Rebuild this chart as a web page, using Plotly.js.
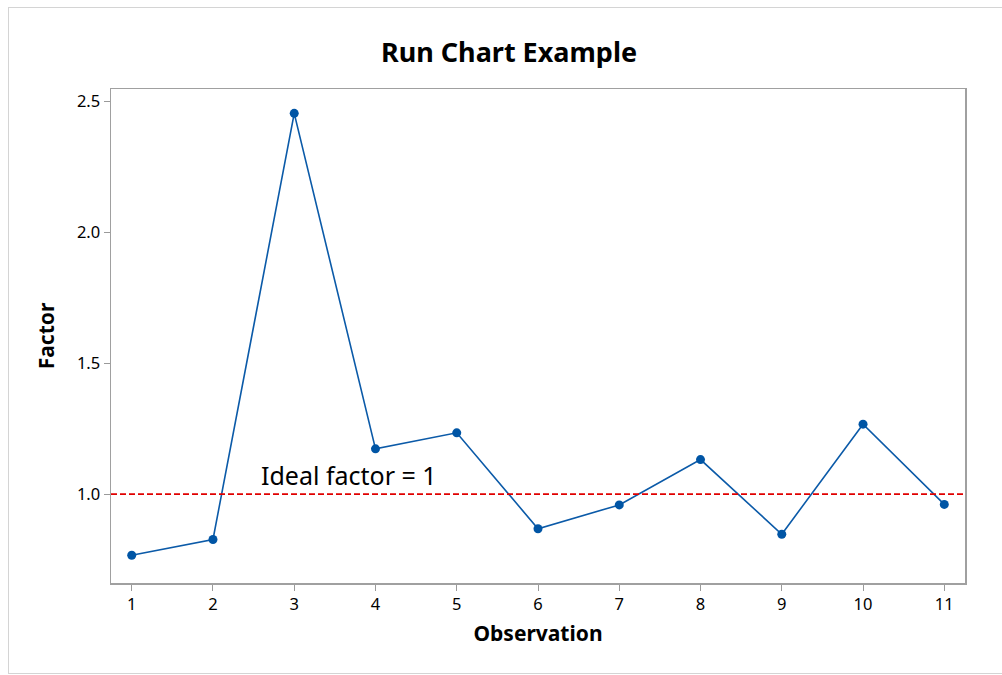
<!DOCTYPE html>
<html>
<head>
<meta charset="utf-8">
<script src="https://cdn.plot.ly/plotly-3.0.1.min.js"></script>
<style>
html,body{margin:0;padding:0;background:#fff;}
#wrap{position:relative;width:1002px;height:675px;}
#chart{width:1002px;height:675px;}
#frame{position:absolute;left:8px;top:7px;width:1000px;height:665px;border:1px solid #d4d4d4;pointer-events:none;}
</style>
</head>
<body>
<div id="wrap"><div id="chart"></div><div id="frame"></div></div>
<script>
const observations = [1, 2, 3, 4, 5, 6, 7, 8, 9, 10, 11];
const factor = [0.767, 0.827, 2.453, 1.173, 1.234, 0.868, 0.959, 1.132, 0.847, 1.267, 0.961];
const idealFactor = 1;
const xTicks = [1, 2, 3, 4, 5, 6, 7, 8, 9, 10, 11];
const yTicks = [1.0, 1.5, 2.0, 2.5];
const yTickLabels = ["1.0", "1.5", "2.0", "2.5"];

const FONT = "'Noto Sans', 'Open Sans', sans-serif";

const traces = [{
  x: observations,
  y: factor,
  type: 'scatter',
  mode: 'lines+markers',
  line: {color: '#0b5aa8', width: 1.6},
  marker: {color: '#0055a5', size: 9},
  hoverinfo: 'x+y',
  showlegend: false
}];

const layout = {
  width: 1002,
  height: 675,
  paper_bgcolor: '#ffffff',
  plot_bgcolor: '#ffffff',
  margin: {l: 111, r: 37, t: 89, b: 92},
  font: {family: FONT, color: '#000000', size: 16},
  title: {
    text: '<b>Run Chart Example</b>',
    font: {family: FONT, size: 27, color: '#000'},
    x: 509/1002, xanchor: 'center', xref: 'container',
    y: 1 - 53/675, yanchor: 'middle', yref: 'container'
  },
  xaxis: {
    range: [0.745, 11.255],
    tickmode: 'array',
    tickvals: xTicks,
    ticktext: xTicks.map(String),
    ticks: 'outside', ticklen: 6, tickwidth: 1, tickcolor: '#9a9a9a',
    showline: true, linecolor: '#a0a0a0', linewidth: 1.5, mirror: true,
    showgrid: false, zeroline: false,
    tickfont: {family: FONT, size: 16.5, color: '#000'},
    title: {text: '<b>Observation</b>', font: {family: FONT, size: 21, color: '#000'}, standoff: 12}
  },
  yaxis: {
    range: [0.661, 2.546],
    tickmode: 'array',
    tickvals: yTicks,
    ticktext: yTickLabels,
    ticks: 'outside', ticklen: 6, tickwidth: 1, tickcolor: '#9a9a9a',
    showline: true, linecolor: '#a0a0a0', linewidth: 1.5, mirror: true,
    showgrid: false, zeroline: false,
    tickfont: {family: FONT, size: 16.5, color: '#000'},
    title: {text: '<b>Factor</b>', font: {family: FONT, size: 21, color: '#000'}, standoff: 16}
  },
  shapes: [{
    type: 'line', xref: 'paper', x0: 0, x1: 1,
    yref: 'y', y0: idealFactor, y1: idealFactor,
    line: {color: '#e00000', width: 1.6, dash: '6px,3px'}
  }],
  annotations: [{
    x: 2.57, y: idealFactor, xref: 'x', yref: 'y',
    xanchor: 'left', yanchor: 'bottom', yshift: 0,
    text: 'Ideal factor = 1', showarrow: false,
    font: {family: FONT, size: 25, color: '#000'}
  }]
};

Plotly.newPlot('chart', traces, layout, {displayModeBar: false, staticPlot: true});
</script>
</body>
</html>
